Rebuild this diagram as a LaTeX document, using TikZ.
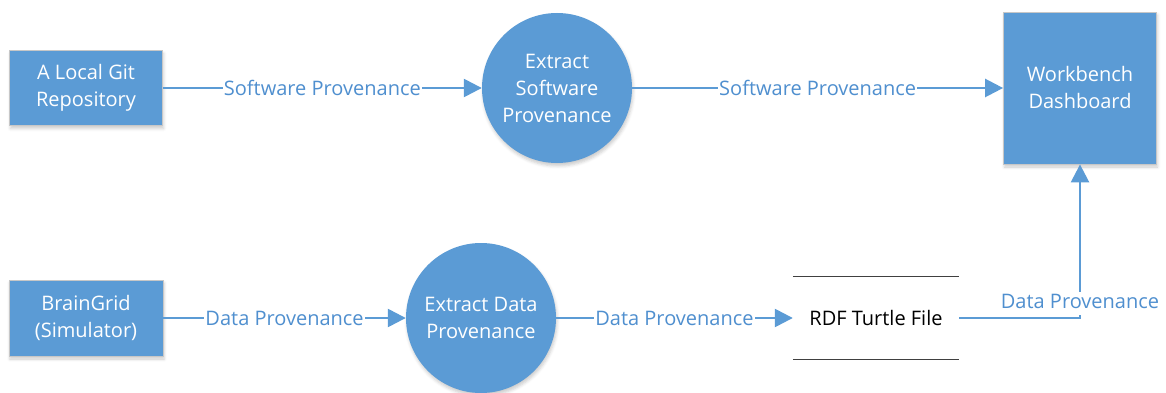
\documentclass[tikz,border=0pt]{standalone}
\usepackage{fontspec}
\setmainfont{Open Sans}
\usetikzlibrary{arrows.meta,shadows.blur}
\definecolor{flowblue}{HTML}{5B9BD5}
\definecolor{labelblue}{HTML}{4F8FCF}

\begin{document}
\begin{tikzpicture}[x=1pt,y=-1pt,>={Triangle[length=18pt,width=18pt]},shorten >=0pt,node distance=230pt,
    font=\fontsize{20}{27}\selectfont,
    proc box/.style={rectangle,draw=black!22,line width=0.8pt,fill=flowblue,text=white,align=center,
        blur shadow={shadow xshift=1pt,shadow yshift=-3pt,shadow blur radius=3pt,shadow opacity=20}},
    proc bubble/.style={circle,fill=flowblue,text=white,align=center,inner sep=0pt,minimum size=150pt,
        blur shadow={shadow xshift=1pt,shadow yshift=-3pt,shadow blur radius=3pt,shadow opacity=20}},
    store/.style={rectangle,minimum width=166pt,minimum height=83pt,text=black},
    flow/.style={->,draw=flowblue,line width=2.5pt},
    flow label/.style={fill=white,text=labelblue,inner xsep=1pt,inner ysep=2pt}]

            \useasboundingbox (0,0) rectangle (1166,393);

            \node[proc box,minimum width=153pt,minimum height=75pt] (1) at (86,88) {A Local Git\\Repository};
            \node[proc bubble] (2) [right of = 1, node distance=471pt] {Extract\\Software\\Provenance};
            \node[proc box,minimum width=153pt,minimum height=152pt] (3) [right of = 2, node distance=523pt] {Workbench\\Dashboard};
            \node[proc box,minimum width=154pt,minimum height=76pt] (4) [below of = 1] {BrainGrid\\(Simulator)};
            \node[proc bubble] (5) [right of = 4, node distance=395pt] {Extract Data\\Provenance};
            \node[store] (6) [right of = 5, node distance=395pt] {RDF Turtle File};

            % data store lines
            \draw[black!75,line width=1.2pt] (6.north west) -- (6.north east);
            \draw[black!75,line width=1.2pt] (6.south west) -- (6.south east);

            \draw[flow] (1) -- node[flow label] {Software Provenance} (2);
            \draw[flow] (2) -- node[flow label] {Software Provenance} (3);
            \draw[flow] (4) -- node[flow label] {Data Provenance} (5);
            \draw[flow] (5) -- node[flow label] {Data Provenance} (6);
            \draw[flow] (6) -| node[flow label,anchor=south,yshift=2pt,text depth=4pt] {Data Provenance} (3);

            ;
        \end{tikzpicture}
\end{document}
